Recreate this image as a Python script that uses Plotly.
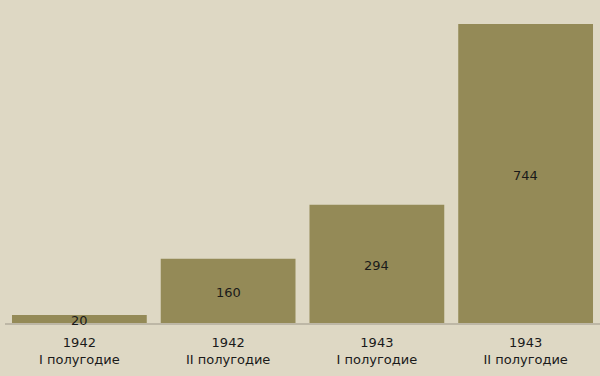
import plotly.graph_objects as go

years = ["1942", "1942", "1943", "1943"]
halves = ["I полугодие", "II полугодие", "I полугодие", "II полугодие"]
values = [20, 160, 294, 744]

cats = [f"{y}<br>{h}" for y, h in zip(years, halves)]

fig = go.Figure()
fig.add_trace(go.Bar(x=cats, y=values, marker=dict(color="#948A57", line=dict(width=0)),
                     hoverinfo="skip"))
for c, v in zip(cats, values):
    fig.add_annotation(x=c, y=v / 2, text=str(v), showarrow=False, yshift=-2,
                       font=dict(family="DejaVu Sans", size=13, color="#1a1a1a"))
fig.update_layout(
    width=600, height=376,
    margin=dict(l=5, r=0, t=24, b=53),
    paper_bgcolor="#DED8C4", plot_bgcolor="#DED8C4",
    showlegend=False, bargap=0.094,
    font=dict(family="DejaVu Sans", size=13, color="#1a1a1a"),
    xaxis=dict(showline=True, linecolor="#BDB7A6", linewidth=2, ticks="",
               tickfont=dict(size=13), ticklabelstandoff=6,
               showgrid=False, fixedrange=True),
    yaxis=dict(range=[0, 744], visible=False, showgrid=False, fixedrange=True),
)
fig.write_html("out.html")
